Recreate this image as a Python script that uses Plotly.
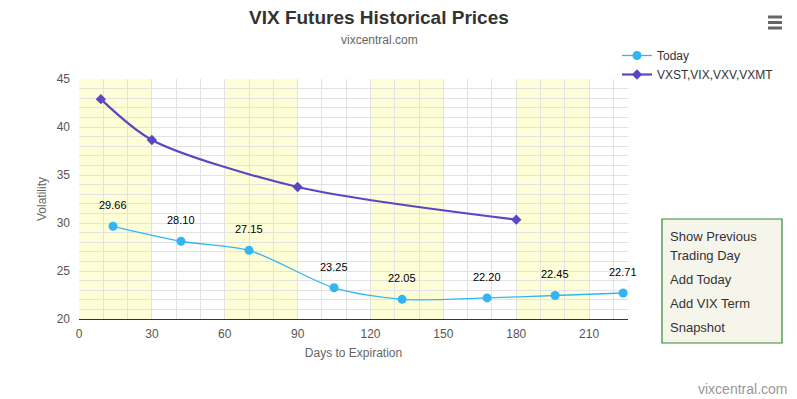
import plotly.graph_objects as go

# ---- data ----
today_days = [14, 42, 70, 105, 133, 168, 196, 224]
today_vals = [29.66, 28.10, 27.15, 23.25, 22.05, 22.20, 22.45, 22.71]
today_labels = ["29.66", "28.10", "27.15", "23.25", "22.05", "22.20", "22.45", "22.71"]

idx_days = [9, 30, 90, 180]
idx_vals = [42.9, 38.65, 33.75, 30.35]

band_starts = [0, 60, 120, 180]
band_width = 30

menu_items = ["Show Previous", "Trading Day", "Add Today", "Add VIX Term", "Snapshot"]

FONT = "Liberation Sans, Arial, sans-serif"

# page has an 8px body margin; plot area sits at page x 79..628, y 79..319
def px(x):
    return (x - 79) / 549

def py(y):
    return (319 - y) / 240

fig = go.Figure()

fig.add_trace(go.Scatter(
    x=today_days, y=today_vals, name="Today",
    mode="lines+markers",
    line=dict(color="#33b5f5", width=1.3, shape="spline", smoothing=0.8),
    marker=dict(symbol="circle", size=9, color="#33b5f5"),
    cliponaxis=False,
))
fig.add_trace(go.Scatter(
    x=idx_days, y=idx_vals, name="VXST,VIX,VXV,VXMT",
    mode="lines+markers",
    line=dict(color="#5a48c2", width=2.2, shape="spline", smoothing=0.8),
    marker=dict(symbol="diamond", size=8, color="#5a48c2"),
    cliponaxis=False,
))

shapes = []
for s in band_starts:
    shapes.append(dict(type="rect", xref="x", yref="y", x0=s, x1=s + band_width,
                       y0=20, y1=45, fillcolor="#fefed6", line=dict(width=0), layer="below"))
# menu box
shapes.append(dict(type="rect", xref="paper", yref="paper",
                   x0=px(662), x1=px(782), y0=py(343), y1=py(219),
                   fillcolor="#f6f5ec", line=dict(color="#2e8b2e", width=1.2)))
# hamburger icon
for yy in [17, 22.5, 28]:
    shapes.append(dict(type="line", xref="paper", yref="paper",
                       x0=px(768), x1=px(782), y0=py(yy), y1=py(yy),
                       line=dict(color="#666666", width=3)))

annotations = [
    dict(text="<b>VIX Futures Historical Prices</b>", xref="paper", yref="paper",
         x=px(379), y=py(17), showarrow=False,
         font=dict(size=19, color="#333333", family=FONT), xanchor="center", yanchor="middle"),
    dict(text="vixcentral.com", xref="paper", yref="paper",
         x=px(379), y=py(40), showarrow=False,
         font=dict(size=12, color="#666666", family=FONT), xanchor="center", yanchor="middle"),
    dict(text="vixcentral.com", xref="paper", yref="paper",
         x=px(789), y=py(389), showarrow=False,
         font=dict(size=14, color="#999999", family=FONT), xanchor="right", yanchor="middle"),
]
for d, v, t in zip(today_days, today_vals, today_labels):
    annotations.append(dict(text=t, x=d, y=v, xref="x", yref="y", showarrow=False,
                            yshift=21, font=dict(size=11, color="#000000", family=FONT)))
menu_y = [236, 255, 279, 303, 327]
for t, yy in zip(menu_items, menu_y):
    annotations.append(dict(text=t, xref="paper", yref="paper",
                            x=px(668), y=py(yy), showarrow=False,
                            font=dict(size=13, color="#333333", family=FONT),
                            xanchor="left", yanchor="middle"))

fig.update_layout(
    width=789, height=391,
    margin=dict(l=71, r=169, t=71, b=80, autoexpand=False),
    paper_bgcolor="#ffffff", plot_bgcolor="#ffffff",
    font=dict(family=FONT, color="#333333"),
    showlegend=True,
    legend=dict(x=px(617), y=py(41), xanchor="left", yanchor="top",
                font=dict(size=12, color="#333333", family=FONT),
                bgcolor="rgba(0,0,0,0)", itemwidth=30, tracegroupgap=0),
    shapes=shapes,
    annotations=annotations,
    xaxis=dict(range=[0, 226], tick0=0, dtick=30, showgrid=True, gridcolor="#e2e2e2",
               minor=dict(dtick=10, showgrid=True, gridcolor="#e2e2e2"),
               showline=True, linecolor="#333333", linewidth=1, zeroline=False,
               ticks="", tickfont=dict(size=12, color="#555555"), ticklabelstandoff=4,
               automargin=False,
               title=dict(text="Days to Expiration", font=dict(size=12, color="#666666"), standoff=8)),
    yaxis=dict(range=[20, 45], tick0=20, dtick=5, showgrid=True, gridcolor="#e2e2e2",
               minor=dict(dtick=1, showgrid=True, gridcolor="#e2e2e2"),
               showline=False, zeroline=False, ticks="",
               tickfont=dict(size=12, color="#555555"), ticklabelstandoff=8,
               automargin=False,
               title=dict(text="Volatility", font=dict(size=12, color="#666666"), standoff=7)),
)

fig.write_html("out.html")
